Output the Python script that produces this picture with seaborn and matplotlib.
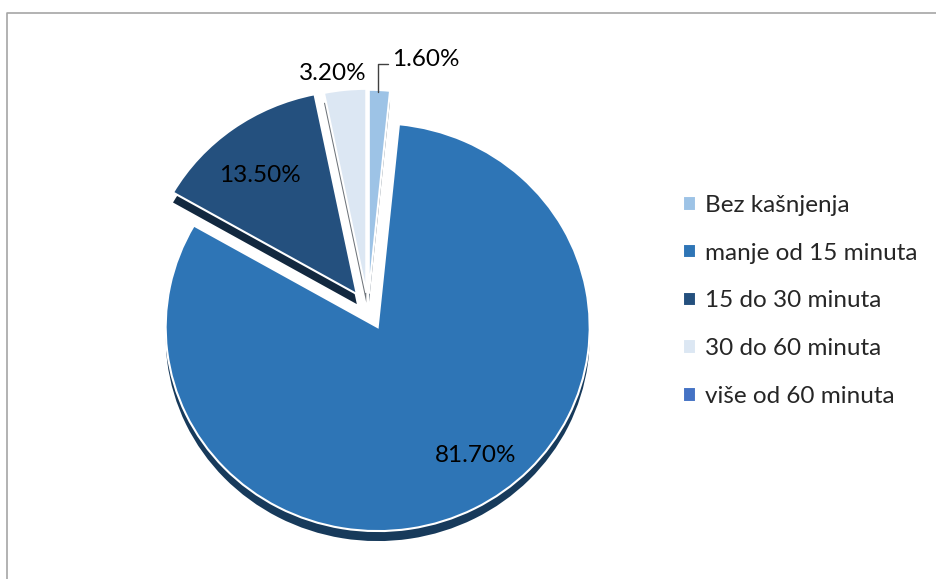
import numpy as np
import matplotlib
matplotlib.use('Agg')
import matplotlib.pyplot as plt
import matplotlib.colors as mcolors
from matplotlib.lines import Line2D
import seaborn as sns

# data
categories = ['Bez kašnjenja', 'manje od 15 minuta', '15 do 30 minuta',
              '30 do 60 minuta', 'više od 60 minuta']
shares = [1.6, 81.7, 13.5, 3.2, 0.0]
pct_labels = ['1.60%', '81.70%', '13.50%', '3.20%', '']
colors = ['#9DC3E6', '#2E75B6', '#24507E', '#DCE7F3', '#4472C4']

W, H = 937, 579
SQ = 0.962  # vertical squash for the tilted look

sns.set_theme(style='white')
plt.rcParams['font.family'] = ['Lato', 'DejaVu Sans']

fig = plt.figure(figsize=(W / 100, H / 100), dpi=100)
ax = fig.add_axes([0, 0, 1, 1])

cx, cy = 368, (H - 309) / SQ
r = 212
# pie explode is in data units here, so scale the fractions by r
explode = [f * r for f in [0.075, 0.1, 0.09, 0.08, 0.0]]
depth = 10 / SQ

# darker copy underneath = side of the 3d pie
side = [mcolors.to_hex(np.array(mcolors.to_rgb(c)) * 0.5) for c in colors]
ax.pie(shares, colors=side, explode=explode, startangle=90, counterclock=False,
       radius=r, center=(cx, cy - depth), wedgeprops=dict(edgecolor='none'))
wedges, _ = ax.pie(shares, colors=colors, explode=explode, startangle=90,
                   counterclock=False, radius=r, center=(cx, cy),
                   wedgeprops=dict(edgecolor='white', linewidth=1.5))
ax.set_aspect('auto')
ax.set_xlim(0, W)
ax.set_ylim(0, H / SQ)
ax.axis('off')

# percentage labels (pixel positions from the picture)
label_pos = [(426, 60), (476, 456), (260, 175), (333, 73), None]
for txt, pos in zip(pct_labels, label_pos):
    if pos is None:
        continue
    fig.text(pos[0] / W, 1 - pos[1] / H, txt, ha='center', va='center',
             fontsize=17.5, color='#000000')

# leader line for the small slice
fig.add_artist(Line2D(np.array([378, 378, 388]) / W,
                      1 - np.array([92, 64, 64]) / H,
                      transform=fig.transFigure, color='#404040', lw=1))

fig.legend(wedges, categories, loc='upper left',
           bbox_to_anchor=(683 / W, 1 - 195 / H), frameon=False,
           fontsize=17.5, handlelength=0.55, handleheight=0.55,
           handletextpad=0.35, labelspacing=1.1, borderpad=0,
           borderaxespad=0)

# chart area border (top and left visible)
fig.add_artist(Line2D([7 / W, 7 / W, 1], [0, 1 - 13 / H, 1 - 13 / H],
                      transform=fig.transFigure, color='#A6A6A6', lw=1.2))

fig.savefig('out.png', dpi=100)
